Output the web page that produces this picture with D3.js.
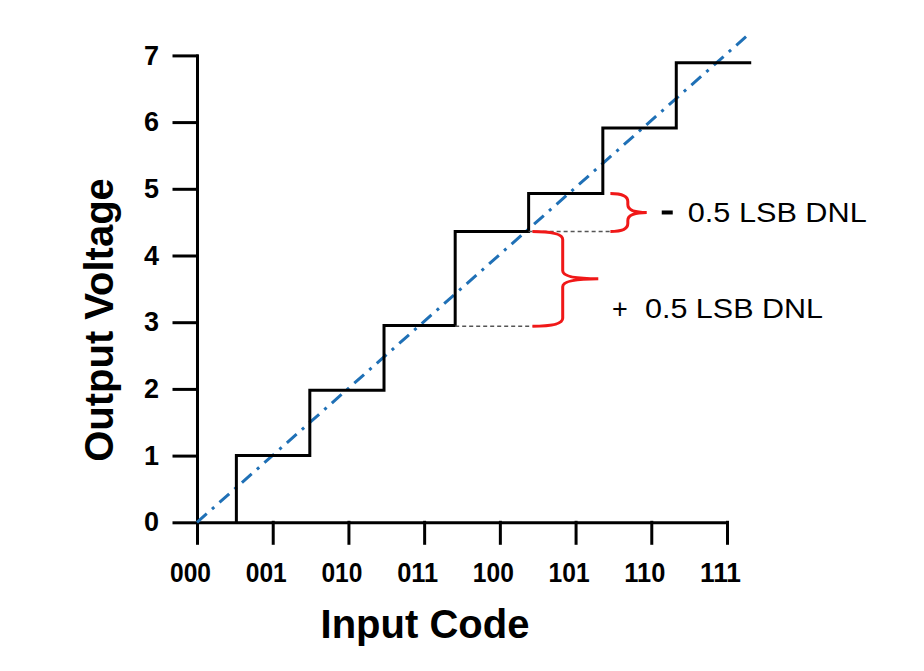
<!DOCTYPE html>
<html>
<head>
<meta charset="utf-8">
<script src="https://cdn.jsdelivr.net/npm/d3@7"></script>
<style>
  body { margin: 0; background: #fff; }
  text { font-family: "Liberation Sans", Arial, sans-serif; }
</style>
</head>
<body>
<svg id="chart"></svg>
<script>
const size = { width: 924, height: 671 };

// input codes on the x axis
const codes = ["000", "001", "010", "011", "100", "101", "110", "111"];
const voltTicks = [0, 1, 2, 3, 4, 5, 6, 7];

// staircase: code position where each step rises, and the level it rises to
const riseAt = [0.52, 1.49, 2.47, 3.41, 4.38, 5.36, 6.33];
const levels = [1, 1.98, 2.95, 4.36, 4.93, 5.91, 6.89];
const stairEnd = 7.32;

// ideal transfer line (code, volts)
const ideal = [[0, 0], [7.3, 7.33]];

// DNL annotations: brace between two levels, dashed guide from the step corner
const dnlTop = [4.93, 4.36];
const dnlBottom = [4.36, 2.94];
const dnlGuideFrom = [4.38, 3.41];
const dnlBraceX = [[5.46, 5.69, 5.94], [4.43, 4.83, 5.3]];

const svg = d3.select("#chart").attr("width", size.width).attr("height", size.height);

const x = d3.scaleLinear().domain([0, 7]).range([197, 727]);
const y = d3.scaleLinear().domain([0, 7]).range([522.3, 55.4]);

// axes
const yAxis = svg.append("g")
  .attr("transform", `translate(${x(0)},0)`)
  .call(d3.axisLeft(y).tickValues(voltTicks).tickFormat(d3.format("d"))
    .tickSize(23).tickSizeOuter(0).tickPadding(15));

const xAxis = svg.append("g")
  .attr("transform", `translate(0,${y(0)})`)
  .call(d3.axisBottom(x).tickValues(d3.range(codes.length)).tickFormat((i) => codes[i])
    .tickSize(21).tickSizeOuter(0).tickPadding(20));

[yAxis, xAxis].forEach((g) => {
  g.selectAll("path, line").attr("stroke", "#000").attr("stroke-width", 3).attr("stroke-linecap", "square");
  g.selectAll("text")
    .attr("fill", "#000")
    .style("font-size", "27px")
    .style("font-weight", "bold")
    .style("font-family", '"Liberation Sans", Arial, sans-serif');
});
xAxis.selectAll("text").attr("dx", -7).attr("textLength", 41).attr("lengthAdjust", "spacingAndGlyphs");

// axis titles
svg.append("text")
  .text("Input Code")
  .attr("x", 425)
  .attr("y", 638)
  .attr("text-anchor", "middle")
  .attr("font-size", 40)
  .attr("font-weight", "bold");

svg.append("text")
  .text("Output Voltage")
  .attr("transform", "translate(113,320) rotate(-90)")
  .attr("text-anchor", "middle")
  .attr("font-size", 40)
  .attr("font-weight", "bold");

// ideal line
svg.append("path")
  .datum(ideal)
  .attr("d", d3.line().x((d) => x(d[0])).y((d) => y(d[1])))
  .attr("fill", "none")
  .attr("stroke", "#1f70b6")
  .attr("stroke-width", 3)
  .attr("stroke-dasharray", "13,7,3,7");

// staircase
const stairs = [[riseAt[0], 0]];
levels.forEach((lv, i) => {
  stairs.push([i + 1 < riseAt.length ? riseAt[i + 1] : stairEnd, lv]);
});

svg.append("path")
  .datum(stairs)
  .attr("d", d3.line().x((d) => x(d[0])).y((d) => y(d[1])).curve(d3.curveStepBefore))
  .attr("fill", "none")
  .attr("stroke", "#000")
  .attr("stroke-width", 3);

// dashed guides
dnlBottom.forEach((lv, i) => {
  svg.append("line")
    .attr("x1", x(dnlGuideFrom[i]))
    .attr("x2", x(dnlBraceX[i][0]))
    .attr("y1", y(lv))
    .attr("y2", y(lv))
    .attr("stroke", "#555")
    .attr("stroke-width", 1.5)
    .attr("stroke-dasharray", "4,3");
});

// braces
function brace(xe, xs, xt, y1, y2) {
  const ym = (y1 + y2) / 2;
  const r = Math.min(8, (y2 - y1) / 4);
  return `M${xe},${y1} Q${xs},${y1} ${xs},${y1 + r} L${xs},${ym - r} Q${xs},${ym} ${xt},${ym}` +
    ` Q${xs},${ym} ${xs},${ym + r} L${xs},${y2 - r} Q${xs},${y2} ${xe},${y2}`;
}

dnlTop.forEach((top, i) => {
  const [xe, xs, xt] = dnlBraceX[i].map(x);
  svg.append("path")
    .attr("d", brace(xe, xs, xt, y(top), y(dnlBottom[i])))
    .attr("fill", "none")
    .attr("stroke", "#f01818")
    .attr("stroke-width", 3);
});

// DNL labels
const lab = svg.append("g").attr("font-size", 27);
lab.append("rect")
  .attr("x", x(dnlBraceX[0][2]) + 15)
  .attr("y", y((dnlTop[0] + dnlBottom[0]) / 2) - 2)
  .attr("width", 11)
  .attr("height", 4)
  .attr("fill", "#000");
lab.append("text")
  .text("0.5 LSB DNL")
  .attr("x", x(dnlBraceX[0][2]) + 41)
  .attr("y", y((dnlTop[0] + dnlBottom[0]) / 2) + 10)
  .attr("textLength", 179)
  .attr("lengthAdjust", "spacingAndGlyphs");

lab.append("text")
  .text("+")
  .attr("x", 612)
  .attr("y", 318);
lab.append("text")
  .text("0.5 LSB DNL")
  .attr("x", 645)
  .attr("y", 318)
  .attr("textLength", 178)
  .attr("lengthAdjust", "spacingAndGlyphs");
</script>
</body>
</html>
